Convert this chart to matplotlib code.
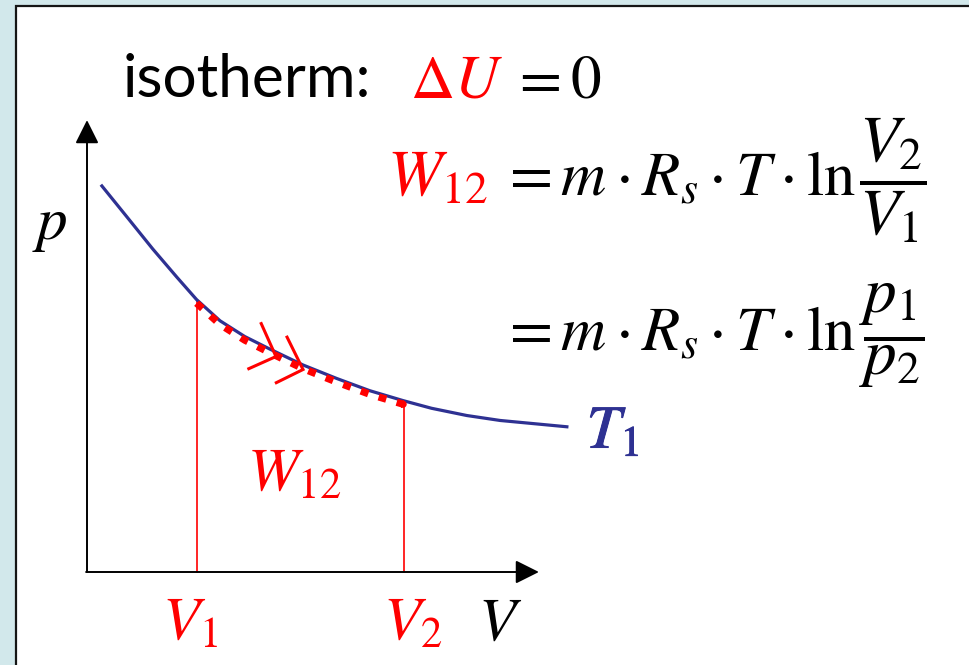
import numpy as np
import matplotlib
matplotlib.use("Agg")
import matplotlib.pyplot as plt
from matplotlib.patches import Rectangle
import matplotlib.patheffects as pe

# isotherm T1 (V and p in axis units, axis length = 10)
V_curve = [0.33, 0.88, 1.46, 1.99, 2.43, 2.95, 3.50, 4.06, 4.79, 5.54,
           6.27, 7.01, 7.64, 8.42, 9.16, 10.64]
p_curve = [8.56, 7.88, 7.16, 6.54, 6.04, 5.57, 5.22, 4.94, 4.59, 4.29,
           4.02, 3.80, 3.63, 3.47, 3.36, 3.22]
V1, V2 = 2.43, 7.03
arrow_V = [4.19, 4.79]

BLUE = "#2e3192"
RED = "#ff0000"
MATH = 44
EQ = 45

plt.rcParams["mathtext.fontset"] = "stix"

fig = plt.figure(figsize=(9.7, 6.65), dpi=100, facecolor="#d2e8eb")
ax = fig.add_axes([0, 0, 1, 1])
unit = 45.1  # pixels per axis unit, same both ways
ax.set_xlim(-87 / unit, (970 - 87) / unit)
ax.set_ylim(-(665 - 572) / unit, 572 / unit)
ax.axis("off")

# white slide panel
ax.add_patch(Rectangle((-71 / unit, -6), 40, 566 / unit + 6, facecolor="white",
                       edgecolor="#151515", lw=1.6, clip_on=False, zorder=0))

# p and V axes
arrow = dict(arrowstyle="-|>,head_length=0.4,head_width=0.2", mutation_scale=36,
             lw=1.4, color="black", shrinkA=0, shrinkB=0)
ax.annotate("", xy=(0, 10.02), xytext=(0, 0), arrowprops=arrow)
ax.annotate("", xy=(10.02, 0), xytext=(-0.02, 0), arrowprops=arrow)

ax.plot(V_curve, p_curve, color=BLUE, lw=2.3, zorder=3)

# drop lines at V1, V2
for v in (V1, V2):
    ax.plot([v, v], [0, np.interp(v, V_curve, p_curve)], color=RED, lw=1.2, zorder=2)

# dotted path of the process
Vc = np.array(V_curve)
inside = (Vc > V1) & (Vc < V2)
vs = np.concatenate([[V1], Vc[inside], [V2 - 0.1]])
ps = np.interp(vs, V_curve, p_curve) - 0.08
ax.plot(vs, ps, color=RED, lw=5.2, linestyle=(0, (1.1, 1.5)),
        dash_capstyle="butt", zorder=4)

# direction chevrons
for v in arrow_V:
    tx, ty = v, np.interp(v, V_curve, p_curve) - 0.1
    dp = np.interp(v + 0.3, V_curve, p_curve) - np.interp(v - 0.3, V_curve, p_curve)
    back = np.arctan2(-dp, -0.6)
    a1, L1 = back - np.radians(40), 0.8
    a2, L2 = back + np.radians(50), 0.66
    ax.plot([tx + L1 * np.cos(a1), tx, tx + L2 * np.cos(a2)],
            [ty + L1 * np.sin(a1), ty, ty + L2 * np.sin(a2)],
            color=RED, lw=2.2, solid_joinstyle="miter", zorder=5)

# headings and formulas
ax.text(0.80, 10.53, "isotherm:", family="Lato", fontsize=43.5, va="baseline")
ax.text(7.16, 10.53, r"$\Delta U$", color=RED, fontsize=MATH, va="baseline")
ax.text(9.40, 10.53, r"$= 0$", fontsize=MATH, va="baseline")

ax.text(6.66, 8.36, r"$W_{12}$", color=RED, fontsize=47, va="baseline")
for y, frac in [(8.36, r"$\dfrac{V_2}{V_1}$"), (4.92, r"$\dfrac{p_1}{p_2}$")]:
    ax.text(9.15, y, r"$= m\cdot R_s\cdot T\cdot \ln$", fontsize=EQ, va="baseline")
    ax.text(17.12, y, frac, fontsize=47, va="baseline")

ax.text(-1.22, 7.38, r"$p$", fontsize=MATH, va="baseline")
ax.text(11.08, 2.75, r"$T_1$", color=BLUE, fontsize=MATH, va="baseline",
        path_effects=[pe.withStroke(linewidth=0.7, foreground=BLUE)])
ax.text(3.54, 1.80, r"$W_{12}$", color=RED, fontsize=MATH, va="baseline")
ax.text(1.66, -1.51, r"$V_1$", color=RED, fontsize=MATH, va="baseline")
ax.text(6.56, -1.51, r"$V_2$", color=RED, fontsize=MATH, va="baseline")
ax.text(8.66, -1.51, r"$V$", fontsize=MATH, va="baseline")

fig.savefig("out.png", dpi=100, facecolor=fig.get_facecolor())
